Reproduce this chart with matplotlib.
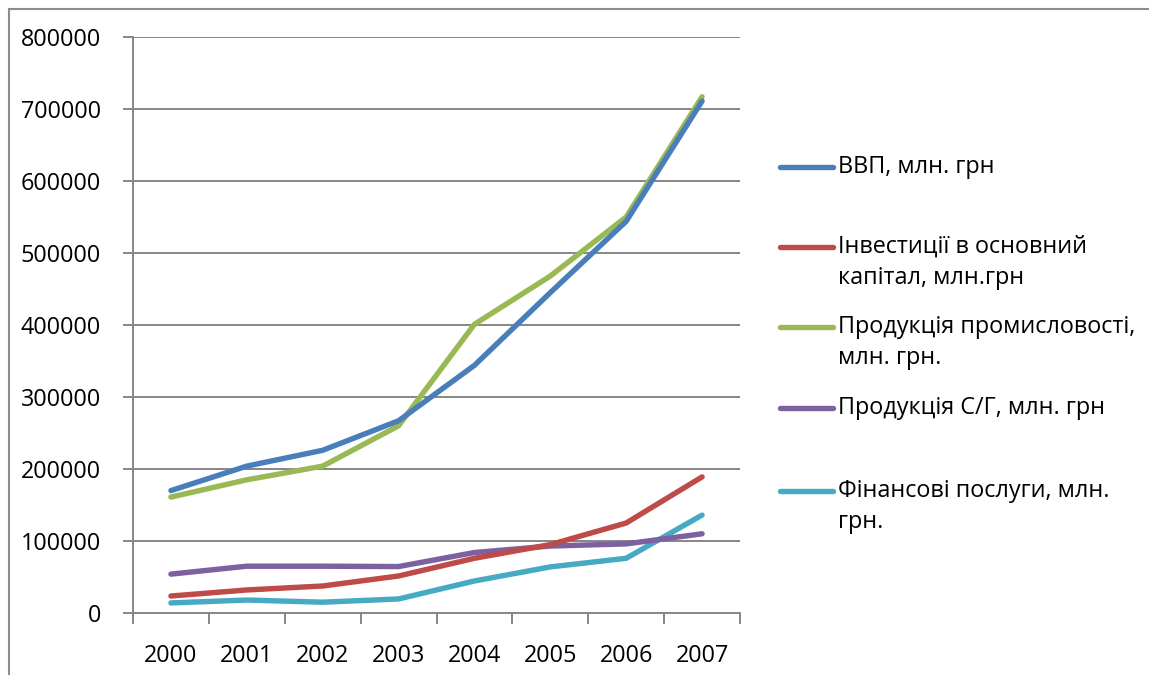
import matplotlib
matplotlib.use("Agg")
import matplotlib.pyplot as plt
from matplotlib.lines import Line2D
from matplotlib.patches import Rectangle

years = ["2000", "2001", "2002", "2003", "2004", "2005", "2006", "2007"]

gdp = [170000, 204000, 226000, 267000, 344000, 445000, 544000, 711000]
investment = [23600, 32000, 37500, 51400, 76000, 95000, 125000, 189000]
industry = [161000, 185000, 204000, 260000, 401000, 468000, 550000, 717000]
agriculture = [54000, 65000, 65000, 64500, 84000, 93000, 96000, 110000]
finance = [14000, 18000, 15000, 19500, 44500, 64000, 76000, 136000]

labels = [
    "ВВП, млн. грн",
    "Інвестиції в основний\nкапітал, млн.грн",
    "Продукція промисловості,\nмлн. грн.",
    "Продукція С/Г, млн. грн",
    "Фінансові послуги, млн.\nгрн.",
]
colors = ["#4A7EBB", "#BE4B48", "#98B954", "#7D60A0", "#46AAC5"]
series = [gdp, investment, industry, agriculture, finance]

plt.rcParams["font.family"] = ["Open Sans", "DejaVu Sans"]

W, H = 1149, 675
fig = plt.figure(figsize=(W / 100, H / 100), dpi=100)

# outer chart frame
fig.patches.append(Rectangle((9 / W, -0.1), 1.2, (H - 9) / H + 0.1,
                             transform=fig.transFigure, fill=False,
                             edgecolor="#8C8C8C", linewidth=1.5))

left, right, top, bottom = 133, 740, 37, 613
ax = fig.add_axes([left / W, (H - bottom) / H, (right - left) / W, (bottom - top) / H])

x = list(range(len(years)))
# draw in reverse so the first series sits on top
for vals, c in reversed(list(zip(series, colors))):
    ax.plot(x, vals, color=c, linewidth=3.9, solid_capstyle="round",
            solid_joinstyle="round", zorder=3)

grid_c = "#868686"
ax.set_ylim(0, 800000)
ax.set_xlim(-0.5, len(years) - 0.5)
ax.set_yticks(range(0, 800001, 100000))
ax.set_yticklabels([str(v) for v in range(0, 800001, 100000)], fontsize=16.8)
ax.yaxis.grid(True, color=grid_c, linewidth=1.4)
ax.set_axisbelow(True)

ax.set_xticks(x)
ax.set_xticklabels(years, fontsize=16.8)
ax.set_xticks([i - 0.5 for i in range(len(years) + 1)], minor=True)
ax.tick_params(axis="x", which="major", length=0, pad=22)
ax.tick_params(axis="x", which="minor", length=8, width=1.4, color=grid_c, direction="out")
ax.tick_params(axis="y", which="major", length=7, width=1.4, color=grid_c, pad=16)

for s in ["top", "right"]:
    ax.spines[s].set_visible(False)
for s in ["left", "bottom"]:
    ax.spines[s].set_color(grid_c)
    ax.spines[s].set_linewidth(1.4)

# legend on the right side
legend_y = [167, 247, 327, 408, 491]
for lab, c, yy in zip(labels, colors, legend_y):
    fy = (H - yy) / H
    fig.add_artist(Line2D([780 / W, 833 / W], [fy, fy], transform=fig.transFigure,
                          color=c, linewidth=3.9, solid_capstyle="round"))
    fig.text(838 / W, (H - yy + 12) / H, lab, fontsize=16.8, va="top", ha="left",
             linespacing=1.4)

fig.savefig("out.png", dpi=100)
